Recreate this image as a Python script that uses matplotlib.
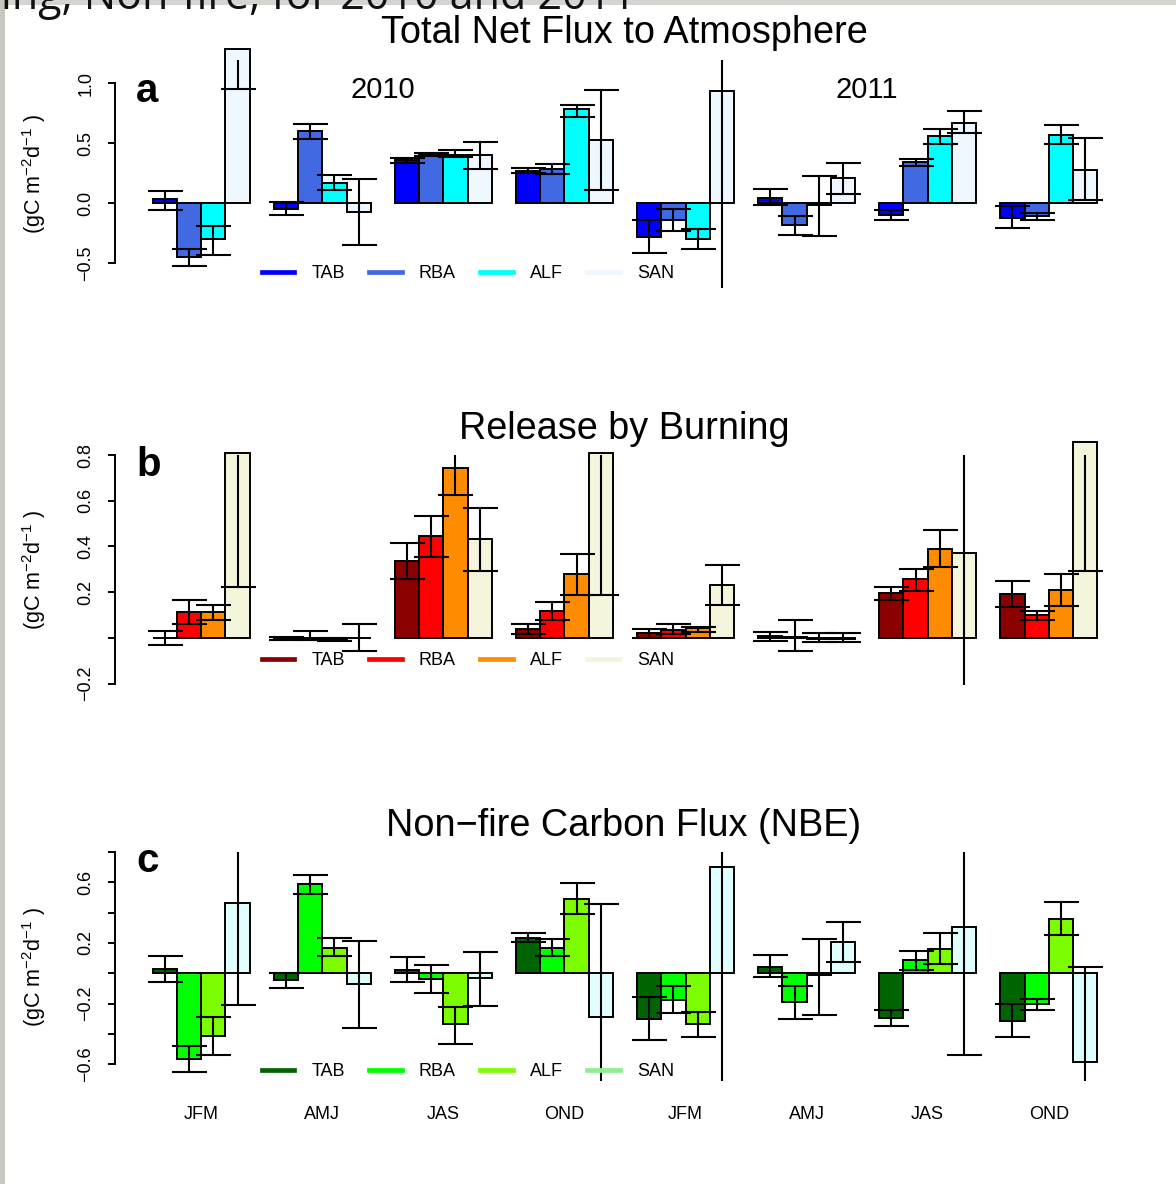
import matplotlib
matplotlib.use("Agg")
import matplotlib.pyplot as plt
import numpy as np
from matplotlib.lines import Line2D
from matplotlib.patches import Rectangle

plt.rcParams['font.family'] = ['Liberation Sans', 'DejaVu Sans']
plt.rcParams['mathtext.default'] = 'regular'

# ---------------- data ----------------
seasons = ["JFM", "AMJ", "JAS", "OND", "JFM", "AMJ", "JAS", "OND"]
regions = ["TAB", "RBA", "ALF", "SAN"]
years = ["2010", "2011"]

# Panel a: Total Net Flux to Atmosphere
a_TAB = [0.03, -0.05, 0.361, 0.267, -0.283, 0.044, -0.097, -0.122]
a_TAB_lo = [-0.06, -0.10, 0.333, 0.253, -0.42, -0.017, -0.139, -0.211]
a_TAB_hi = [0.10, 0.005, 0.375, 0.294, -0.14, 0.117, -0.056, -0.028]
a_RBA = [-0.45, 0.60, 0.397, 0.283, -0.14, -0.186, 0.342, -0.106]
a_RBA_lo = [-0.525, 0.535, 0.39, 0.244, -0.23, -0.27, 0.311, -0.14]
a_RBA_hi = [-0.38, 0.655, 0.42, 0.328, -0.05, -0.108, 0.367, -0.08]
a_ALF = [-0.30, 0.167, 0.403, 0.78, -0.30, -0.02, 0.558, 0.564]
a_ALF_lo = [-0.43, 0.11, 0.383, 0.72, -0.38, -0.275, 0.494, 0.489]
a_ALF_hi = [-0.19, 0.23, 0.44, 0.82, -0.22, 0.225, 0.617, 0.647]
a_SAN = [1.28, -0.075, 0.397, 0.525, 0.93, 0.205, 0.669, 0.278]
a_SAN_lo = [0.95, -0.35, 0.286, 0.111, -0.95, 0.078, 0.583, 0.022]
a_SAN_hi = [1.35, 0.20, 0.506, 0.94, 1.6, 0.333, 0.767, 0.544]

# Panel b: Release by Burning
b_TAB = [0.0, -0.004, 0.336, 0.038, 0.02, 0.008, 0.198, 0.193]
b_TAB_lo = [-0.029, -0.008, 0.256, 0.019, 0.0, -0.013, 0.164, 0.134]
b_TAB_hi = [0.03, 0.004, 0.414, 0.06, 0.04, 0.026, 0.222, 0.251]
b_RBA = [0.113, -0.004, 0.445, 0.118, 0.033, 0.004, 0.256, 0.099]
b_RBA_lo = [0.0625, -0.007, 0.353, 0.08, 0.019, -0.058, 0.205, 0.078]
b_RBA_hi = [0.164, 0.03, 0.532, 0.158, 0.06, 0.078, 0.30, 0.118]
b_ALF = [0.113, -0.008, 0.741, 0.28, 0.044, -0.005, 0.39, 0.209]
b_ALF_lo = [0.08, -0.013, 0.625, 0.189, 0.026, -0.02, 0.31, 0.138]
b_ALF_hi = [0.142, -0.002, 0.90, 0.368, 0.046, 0.02, 0.47, 0.28]
b_SAN = [0.81, 0.0, 0.432, 0.81, 0.233, -0.005, 0.37, 0.859]
b_SAN_lo = [0.222, -0.057, 0.294, 0.189, 0.142, -0.02, -0.5, 0.294]
b_SAN_hi = [1.2, 0.06, 0.57, 1.2, 0.318, 0.02, 1.2, 1.2]

# Panel c: Non-fire Carbon Flux (NBE)
c_TAB = [0.028, -0.046, 0.02, 0.235, -0.30, 0.042, -0.296, -0.314]
c_TAB_lo = [-0.059, -0.097, -0.059, 0.206, -0.443, -0.026, -0.345, -0.421]
c_TAB_hi = [0.112, 0.004, 0.105, 0.263, -0.16, 0.118, -0.244, -0.204]
c_RBA = [-0.564, 0.588, -0.04, 0.167, -0.178, -0.19, 0.086, -0.204]
c_RBA_lo = [-0.65, 0.522, -0.13, 0.114, -0.265, -0.30, 0.022, -0.244]
c_RBA_hi = [-0.478, 0.65, 0.055, 0.226, -0.083, -0.083, 0.145, -0.167]
c_ALF = [-0.413, 0.169, -0.338, 0.492, -0.336, -0.013, 0.16, 0.358]
c_ALF_lo = [-0.54, 0.114, -0.465, 0.388, -0.419, -0.274, 0.059, 0.25]
c_ALF_hi = [-0.292, 0.235, -0.22, 0.595, -0.255, 0.228, 0.263, 0.467]
c_SAN = [0.465, -0.072, -0.033, -0.292, 0.70, 0.206, 0.307, -0.586]
c_SAN_lo = [-0.21, -0.358, -0.217, -1.0, -1.0, 0.072, -0.542, -1.0]
c_SAN_hi = [1.2, 0.213, 0.143, 0.459, 1.2, 0.34, 1.2, 0.042]

titles = ["Total Net Flux to Atmosphere", "Release by Burning",
          "Non\u2212fire Carbon Flux (NBE)"]
letters = ["a", "b", "c"]

a_colors = ["#0000FF", "#4169E1", "#00FFFF", "#F0F8FF"]
b_colors = ["#8B0000", "#FF0000", "#FF8C00", "#F5F5DC"]
c_colors = ["#006400", "#00FF00", "#7CFC00", "#E0FFFF"]
c_legend_colors = ["#006400", "#00FF00", "#7CFC00", "#90EE90"]

a_ticks = [-0.5, 0.0, 0.5, 1.0]
a_ticklabels = ["\u22120.5", "0.0", "0.5", "1.0"]
b_ticks = [-0.2, 0.0, 0.2, 0.4, 0.6, 0.8]
b_ticklabels = ["\u22120.2", "", "0.2", "0.4", "0.6", "0.8"]
c_ticks = [-0.6, -0.4, -0.2, 0.0, 0.2, 0.4, 0.6, 0.8]
c_ticklabels = ["\u22120.6", "", "\u22120.2", "", "0.2", "", "0.6", ""]

panels = [
    dict(vals=[a_TAB, a_RBA, a_ALF, a_SAN],
         lo=[a_TAB_lo, a_RBA_lo, a_ALF_lo, a_SAN_lo],
         hi=[a_TAB_hi, a_RBA_hi, a_ALF_hi, a_SAN_hi],
         colors=a_colors, lcolors=a_colors, ticks=a_ticks, tlabels=a_ticklabels,
         ylim=(-0.708, 1.192), top=60, bottom=288, leg_y=0.062),
    dict(vals=[b_TAB, b_RBA, b_ALF, b_SAN],
         lo=[b_TAB_lo, b_RBA_lo, b_ALF_lo, b_SAN_lo],
         hi=[b_TAB_hi, b_RBA_hi, b_ALF_hi, b_SAN_hi],
         colors=b_colors, lcolors=b_colors, ticks=b_ticks, tlabels=b_ticklabels,
         ylim=(-0.206, 0.796), top=455, bottom=685, leg_y=0.105),
    dict(vals=[c_TAB, c_RBA, c_ALF, c_SAN],
         lo=[c_TAB_lo, c_RBA_lo, c_ALF_lo, c_SAN_lo],
         hi=[c_TAB_hi, c_RBA_hi, c_ALF_hi, c_SAN_hi],
         colors=c_colors, lcolors=c_legend_colors, ticks=c_ticks, tlabels=c_ticklabels,
         ylim=(-0.711, 0.80), top=852, bottom=1081, leg_y=0.04),
]
title_y = [33, 429, 826]
letter_y = [102, 476, 872]

# ---------------- figure ----------------
W, H = 1176, 1184
fig = plt.figure(figsize=(W / 100, H / 100), dpi=100)
fig.patch.set_facecolor("white")

# screenshot remnants: grey strips and cut-off slide heading
fig.patches.append(Rectangle((0, 1 - 5 / H), 1, 5 / H, transform=fig.transFigure,
                             facecolor="#d4d4d0", edgecolor="none", zorder=0))
fig.patches.append(Rectangle((0, 0), 5 / W, 1, transform=fig.transFigure,
                             facecolor="#c8c8bf", edgecolor="none", zorder=0))
fig.text(1 / W, 1 - 9 / H, "ing, Non-fire, for 2010 and 2011", fontsize=31,
         ha="left", va="baseline", color="#111111", family=["Open Sans", "DejaVu Sans"])

ng = len(seasons)
nb = len(regions)
group_starts = np.arange(ng) * (nb + 1) + 1
xl = (-0.56, 41.56)

left = 115 / W
width = 1020 / W

for k, p in enumerate(panels):
    ax = fig.add_axes([left, 1 - p["bottom"] / H, width, (p["bottom"] - p["top"]) / H])
    ax.set_xlim(*xl)
    ax.set_ylim(*p["ylim"])
    for i in range(nb):
        xs = group_starts + i
        v = np.array(p["vals"][i])
        lo = np.array(p["lo"][i])
        hi = np.array(p["hi"][i])
        ax.bar(xs, v, width=1.0, align="edge", color=p["colors"][i],
               edgecolor="black", linewidth=1.4, clip_on=False, zorder=2)
        mid = (lo + hi) / 2
        half = (hi - lo) / 2
        ax.errorbar(xs + 0.5, mid, yerr=half, fmt="none", ecolor="black",
                    elinewidth=1.5, capsize=12.6, capthick=1.5, zorder=3)
    for s in ["top", "right", "bottom"]:
        ax.spines[s].set_visible(False)
    ax.spines["left"].set_linewidth(1.4)
    ax.spines["left"].set_bounds(p["ticks"][0], p["ticks"][-1])
    ax.set_yticks(p["ticks"])
    ax.set_yticklabels(p["tlabels"])
    ax.tick_params(axis="y", direction="out", length=5, width=1.4, pad=10,
                   labelsize=13, labelrotation=90)
    for lbl in ax.get_yticklabels():
        lbl.set_va("center")
    if k < 2:
        ax.set_xticks([])
    else:
        ax.set_xticks(group_starts + nb / 2)
        ax.set_xticklabels(seasons)
        ax.tick_params(axis="x", length=0, pad=18, labelsize=13)
    ax.patch.set_alpha(0)

    handles = [Line2D([], [], color=c, lw=3.4) for c in p["lcolors"]]
    ax.legend(handles, regions, loc="center", bbox_to_anchor=(0.346, p["leg_y"]),
              ncol=4, frameon=False, fontsize=13, handlelength=1.8,
              handletextpad=0.95, columnspacing=1.35, borderpad=0, borderaxespad=0)

    ax.text(-0.0794, 0.5, r"(gC m$^{-2}$d$^{-1}$ )", transform=ax.transAxes,
            rotation=90, ha="center", va="center", fontsize=15.5)

    fig.text(624 / W, 1 - title_y[k] / H, titles[k], ha="center", va="center",
             fontsize=27.3)
    fig.text(136 / W, 1 - letter_y[k] / H, letters[k], ha="left", va="baseline",
             fontsize=29, fontweight="bold")

    if k == 0:
        ax.text(group_starts[1] + nb + 0.5, 0.875, years[0], ha="center",
                va="baseline", fontsize=21)
        ax.text(group_starts[5] + nb + 0.5, 0.875, years[1], ha="center",
                va="baseline", fontsize=21)

fig.savefig("out.png", dpi=100)
